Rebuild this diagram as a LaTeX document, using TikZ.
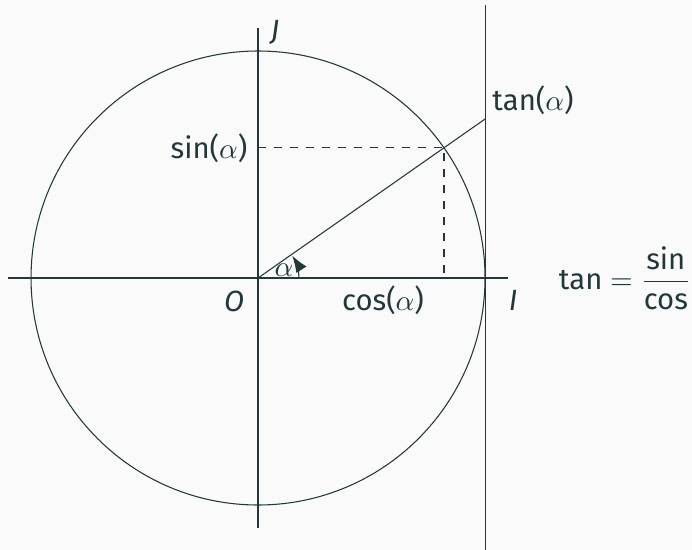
\documentclass[tikz,border=0pt]{standalone}
\usepackage{fontspec}
\setmainfont{Fira Sans}
\usetikzlibrary{arrows.meta}
\definecolor{mDarkTeal}{HTML}{23373B}
\definecolor{mBg}{HTML}{FAFAFA}
\tikzset{
  lbl/.style={inner sep=0pt, text=mDarkTeal, font=\fontsize{11}{13}\selectfont},
  ln/.style={draw=mDarkTeal, line width=0.4pt},
  dsh/.style={ln, dashed}
}
\begin{document}
\begin{tikzpicture}
\fill[mBg] (-3.41,-3.594) rectangle (5.735,3.674);
\useasboundingbox (-3.41,-3.594) rectangle (5.735,3.674);
\coordinate (O) at (0,0);
\coordinate (xl) at (-3.3,0);
\coordinate (xr) at (3.3,0);
\coordinate (yb) at (0,-3.3);
\coordinate (yt) at (0,3.3);
\coordinate (tb) at (3,-3.7);
\coordinate (tt) at (3,3.61);
\coordinate (P) at (35:3);
\coordinate (Px) at ({3*cos(35)},0);
\coordinate (Py) at (0,{3*sin(35)});
\coordinate (T) at (3,{3*tan(35)});
\coordinate (A0) at (0.54,0);
% circle and axes
\draw[ln] (O) circle (3);
\draw[ln] (xl) -- (xr);
\draw[ln] (yb) -- (yt);
\draw[ln] (tb) -- (tt);
% angle line
\draw[ln] (O) -- (T);
\draw[dsh] (Py) -- (P) -- (Px);
\draw[ln, -{Latex[length=2.2mm,width=1.6mm]}] (A0) arc[start angle=0, end angle=33, radius=0.54];
% labels
\node[lbl] (lJ) at (0.225,3.24) {\itshape J};
\node[lbl] (lO) at (-0.317,-0.304) {\itshape O};
\node[lbl] (lI) at (3.37,-0.29) {\itshape I};
\node[lbl] (lcos) at (1.652,-0.29) {cos($\alpha$)};
\node[lbl] (lsin) at (-0.648,1.718) {sin($\alpha$)};
\node[lbl] (ltan) at (3.634,2.352) {tan($\alpha$)};
\node[lbl] (la) at (0.344,0.106) {$\alpha$};
\node[lbl, anchor=east] (eq) at (5.73,0.0) {tan $=$ $\displaystyle\frac{\mbox{sin}}{\mbox{cos}}$};
\end{tikzpicture}
\end{document}
